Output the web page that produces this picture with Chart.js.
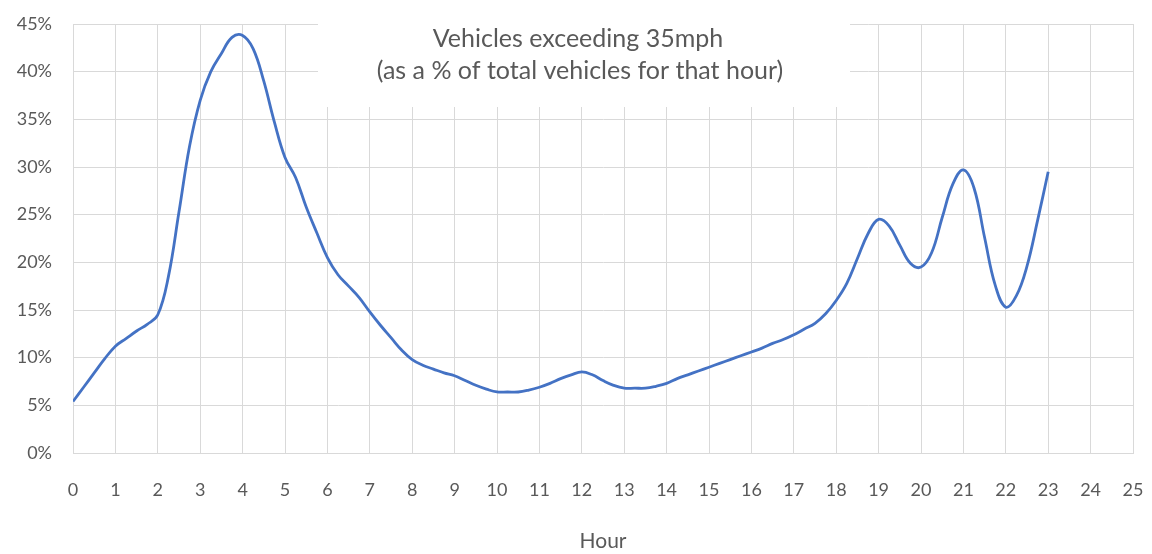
<!DOCTYPE html>
<html>
<head>
<meta charset="utf-8">
<title>Vehicles exceeding 35mph</title>
<script src="https://cdn.jsdelivr.net/npm/chart.js@4/dist/chart.umd.min.js"></script>
<style>
  html, body { margin: 0; padding: 0; background: #fff; }
  #wrap { width: 1152px; height: 554px; position: relative; }
</style>
</head>
<body>
<div id="wrap"><canvas id="speed-chart" width="1152" height="554"></canvas></div>
<script>
// =========
// Data
// =========

//  Hour of day, sampled every quarter hour
//  ---------------------------------------
const hours = [
  0, 0.25, 0.5, 0.75, 1, 1.25, 1.5, 1.75, 2, 2.25, 2.5, 2.75,
  3, 3.25, 3.5, 3.75, 4, 4.25, 4.5, 4.75, 5, 5.25, 5.5, 5.75,
  6, 6.25, 6.5, 6.75, 7, 7.25, 7.5, 7.75, 8, 8.25, 8.5, 8.75,
  9, 9.25, 9.5, 9.75, 10, 10.25, 10.5, 10.75, 11, 11.25, 11.5, 11.75,
  12, 12.25, 12.5, 12.75, 13, 13.25, 13.5, 13.75, 14, 14.25, 14.5, 14.75,
  15, 15.25, 15.5, 15.75, 16, 16.25, 16.5, 16.75, 17, 17.25, 17.5, 17.75,
  18, 18.25, 18.5, 18.75, 19, 19.25, 19.5, 19.75, 20, 20.25, 20.5, 20.75,
  21, 21.25, 21.5, 21.75, 22, 22.25, 22.5, 22.75, 23,
];

//  % of vehicles over 35mph
//  ------------------------
const pctOver35 = [
  5.4, 6.9, 8.4, 9.9, 11.2, 12.0, 12.8, 13.5, 14.5, 18.5, 25.3, 32.2,
  37.0, 40.0, 41.9, 43.6, 43.8, 42.4, 39.0, 34.7, 31.0, 28.9, 25.8, 23.1,
  20.5, 18.7, 17.5, 16.3, 14.8, 13.4, 12.1, 10.8, 9.8, 9.2, 8.8, 8.4,
  8.1, 7.6, 7.1, 6.7, 6.4, 6.4, 6.4, 6.6, 6.9, 7.3, 7.8, 8.2,
  8.5, 8.2, 7.6, 7.1, 6.8, 6.8, 6.8, 7.0, 7.3, 7.8, 8.2, 8.6,
  9.0, 9.4, 9.8, 10.2, 10.6, 11.0, 11.5, 11.9, 12.4, 13.0, 13.6, 14.6,
  16.0, 17.8, 20.4, 23.0, 24.5, 23.8, 21.8, 19.9, 19.5, 21.0, 24.7, 28.2,
  29.7, 27.8, 22.6, 17.6, 15.3, 16.5, 19.6, 24.4, 29.5,
];

//  Axis ticks and text
//  -------------------
const xTickRange = [0, 25];
const yTickRange = [0, 45];
const titleLines = ['Vehicles exceeding 35mph', '(as a % of total vehicles for that hour)'];
const xAxisTitle = 'Hour';

const textGrey = '#595959';
const gridGrey = '#d9d9d9';
const fontFamily = 'Lato, "Open Sans", sans-serif';


// ======================
// Title box (over grid)
// ======================
const titleBox = {
  id: 'titleBox',
  beforeDatasetsDraw(chart) {
    const ctx = chart.ctx;
    ctx.save();
    ctx.fillStyle = '#ffffff';
    ctx.fillRect(318, 0, 532, 107);
    ctx.fillStyle = textGrey;
    ctx.font = '25px ' + fontFamily;
    ctx.textAlign = 'center';
    ctx.textBaseline = 'alphabetic';
    ctx.fillText(titleLines[0], 578, 47);
    ctx.fillText(titleLines[1], 580, 79);
    ctx.restore();
  },
};


// ======
// Chart
// ======
const points = hours.map((h, i) => ({x: h, y: pctOver35[i]}));

const speedData = {
  datasets: [
    {
      data: points,
      borderColor: '#4472C4',
      borderWidth: 2.8,
      pointRadius: 0,
      tension: 0.4,
      fill: false,
    },
  ],
};

const speedOptions = {
  responsive: false,
  animation: false,
  layout: {
    padding: {left: 0, right: 19, top: 24, bottom: 0},
  },
  scales: {
    x: {
      type: 'linear',
      min: xTickRange[0],
      max: xTickRange[1],
      // fixed box; ignore label overhang so the plot reaches the right edge
      afterFit: (scale) => {
        scale.height = 101;
        scale.paddingLeft = 0;
        scale.paddingRight = 0;
      },
      ticks: {
        stepSize: 1,
        autoSkip: false,
        color: textGrey,
        padding: 26,
        font: {family: fontFamily, size: 18},
        maxRotation: 0,
      },
      grid: {color: gridGrey, lineWidth: 1, drawTicks: false},
      border: {color: gridGrey},
      title: {
        display: true,
        text: xAxisTitle,
        color: textGrey,
        font: {family: fontFamily, size: 21},
        padding: {top: 0, bottom: 0},
      },
    },
    y: {
      min: yTickRange[0],
      max: yTickRange[1],
      afterFit: (scale) => {
        scale.width = 73;
        scale.paddingTop = 0;
        scale.paddingBottom = 0;
      },
      ticks: {
        stepSize: 5,
        color: textGrey,
        padding: 21,
        font: {family: fontFamily, size: 18},
        callback: (v) => v + '%',
      },
      grid: {color: gridGrey, lineWidth: 1, drawTicks: false},
      border: {color: gridGrey},
    },
  },
  plugins: {
    legend: {display: false},
    tooltip: {enabled: false},
  },
};

let speedChart = new Chart(document.getElementById('speed-chart'), {
  type: 'line',
  data: speedData,
  options: speedOptions,
  plugins: [titleBox],
});
</script>
</body>
</html>
